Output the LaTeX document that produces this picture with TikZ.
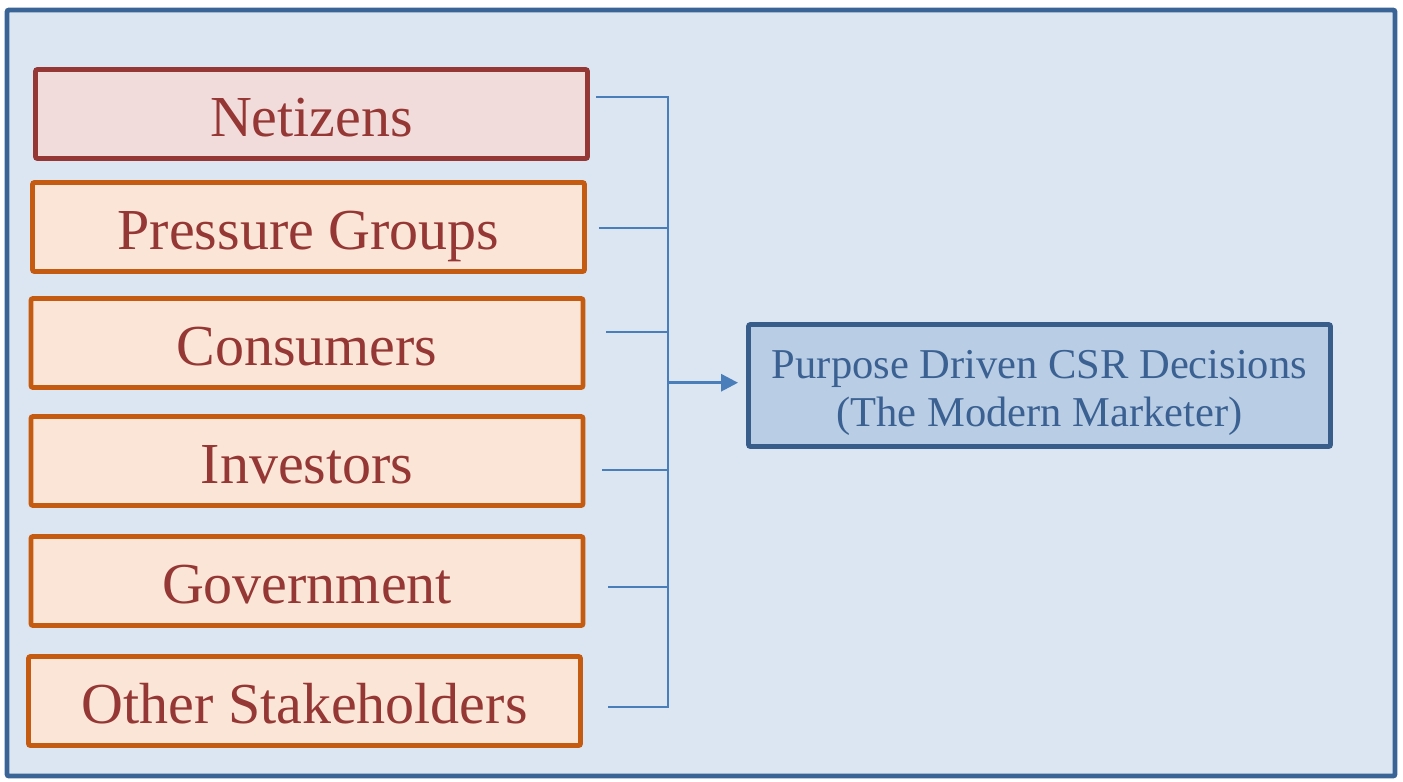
\documentclass[tikz,border=0pt]{standalone}
\usepackage{fontspec}
\setmainfont{Liberation Serif}
\usetikzlibrary{calc,arrows.meta}
\definecolor{framedraw}{HTML}{3A6496}
\definecolor{framefill}{HTML}{DCE6F2}
\definecolor{netdraw}{HTML}{953735}
\definecolor{netfill}{HTML}{F2DCDB}
\definecolor{grpdraw}{HTML}{C55A11}
\definecolor{grpfill}{HTML}{FBE5D6}
\definecolor{grptext}{HTML}{953735}
\definecolor{decdraw}{HTML}{385D8A}
\definecolor{decfill}{HTML}{B9CDE5}
\definecolor{dectext}{HTML}{3B6192}
\definecolor{linkblue}{HTML}{4A7EBB}

\begin{document}
\begin{tikzpicture}[
        group/.style={draw=grpdraw, fill=grpfill, line width=1.4pt, rounded corners=0.6pt,
            minimum width=5.52cm, minimum height=0.89cm, inner sep=0pt,
            text height=0.45cm, text depth=0pt,
            text=grptext, font=\fontsize{16.5}{20}\selectfont},
        link/.style={draw=linkblue, line width=0.6pt},
        arr/.style={draw=linkblue, line width=0.85pt, -{Triangle[length=0.17cm, width=0.17cm]}}]
    \useasboundingbox (0,0) rectangle (14.03,-7.81);
    \draw[draw=framedraw, fill=framefill, line width=1.4pt, rounded corners=0.6pt] (0.07,-0.10) rectangle (13.95,-7.76);

    \node[group, draw=netdraw, fill=netfill] (net) at (3.115,-1.14) {Netizens};
    \node[group] (press) at (3.085,-2.27) {Pressure Groups};
    \node[group] (cons) at (3.07,-3.43) {Consumers};
    \node[group] (inv) at (3.07,-4.61) {Investors};
    \node[group] (gov) at (3.07,-5.81) {Government};
    \node[group] (other) at (3.045,-7.01) {Other Stakeholders};

    \node[draw=decdraw, fill=decfill, line width=1.4pt, rounded corners=0.6pt,
        minimum width=5.82cm, minimum height=1.22cm, inner sep=0pt, align=center,
        text=dectext, font=\fontsize{12.1}{13.8}\selectfont] (dec) at (10.395,-3.855)
        {\rule{0pt}{0.43cm}Purpose Driven CSR Decisions\\(The Modern Marketer)};

    \coordinate (bustop) at (6.677,-0.967);
    \coordinate (busbot) at (6.677,-7.067);
    \coordinate (join) at (6.677,-3.827);
    \coordinate (netout) at ($(net.east)+(0.06,0.173)$);
    \coordinate (pressout) at ($(press.east)+(0.12,-0.01)$);
    \coordinate (consout) at ($(cons.east)+(0.21,0.11)$);
    \coordinate (invout) at ($(inv.east)+(0.17,-0.09)$);
    \coordinate (govout) at ($(gov.east)+(0.23,-0.057)$);
    \coordinate (otherout) at ($(other.east)+(0.25,-0.057)$);

    \draw[link] (netout) -| (busbot) -- (otherout);
    \draw[link] (pressout) -- (pressout -| bustop);
    \draw[link] (consout) -- (consout -| bustop);
    \draw[link] (invout) -- (invout -| bustop);
    \draw[link] (govout) -- (govout -| bustop);
    \draw[arr, shorten >=0.08cm] (join) -- (join -| dec.west);
\end{tikzpicture}
\end{document}
